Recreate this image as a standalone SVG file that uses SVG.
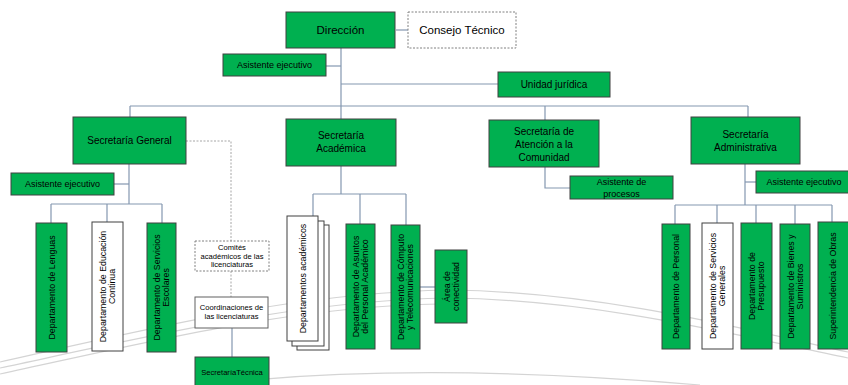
<svg xmlns="http://www.w3.org/2000/svg" width="848" height="385" viewBox="0 0 848 385">
<style>
.g{fill:#00b050;stroke:#404040;stroke-width:1}
.w{fill:#fff;stroke:#404040;stroke-width:1}
.d{fill:#fff;stroke:#808080;stroke-width:1;stroke-dasharray:2,1.5}
.c{stroke:#8497b0;fill:none;stroke-width:1.2}
.cd{stroke:#a6a6a6;fill:none;stroke-width:1;stroke-dasharray:2,1.5}
.bg{stroke:#d4d4d4;fill:none;stroke-width:1.2}
text{font-family:"Liberation Sans",Arial,sans-serif;fill:#000;text-anchor:middle}
.t12{font-size:11.5px}
.t10{font-size:10px}
.t9{font-size:9px}
.v{font-size:8.8px}
.s{font-size:7.6px}
</style>
<rect width="848" height="385" fill="#fff"/>
<g id="background">
<path class="bg" d="M0,362 C150,328 300,292 450,290 C600,292 740,328 848,352"/>
<path class="bg" d="M0,368 C150,336 300,300 450,298 C600,300 740,336 848,358"/>
<path class="bg" d="M0,374 C140,344 290,306 440,304"/>
<path class="bg" d="M230,382 C350,370 500,368 700,385"/>
</g>
<g id="connectors">
<line class="c" x1="341" y1="48" x2="341" y2="106"/>
<line class="c" x1="396" y1="30" x2="408" y2="30"/>
<line class="c" x1="326" y1="66" x2="341" y2="66"/>
<line class="c" x1="341" y1="84" x2="498" y2="84"/>
<line class="c" x1="130" y1="106" x2="748" y2="106"/>
<line class="c" x1="130" y1="106" x2="130" y2="117"/>
<line class="c" x1="341" y1="106" x2="341" y2="119"/>
<line class="c" x1="545" y1="106" x2="545" y2="120"/>
<line class="c" x1="748" y1="106" x2="748" y2="117"/>
<line class="c" x1="129" y1="164" x2="129" y2="204"/>
<line class="c" x1="114" y1="184" x2="129" y2="184"/>
<line class="c" x1="51" y1="204" x2="162" y2="204"/>
<line class="c" x1="51" y1="204" x2="51" y2="223"/>
<line class="c" x1="107" y1="204" x2="107" y2="222"/>
<line class="c" x1="162" y1="204" x2="162" y2="223"/>
<path class="cd" d="M186,141 H231 V241"/>
<line class="cd" x1="231" y1="271" x2="231" y2="297"/>
<line class="c" x1="232" y1="328" x2="232" y2="357"/>
<line class="c" x1="341" y1="166" x2="341" y2="194"/>
<line class="c" x1="313" y1="194" x2="406" y2="194"/>
<line class="c" x1="313" y1="194" x2="313" y2="216"/>
<line class="c" x1="360" y1="194" x2="360" y2="224"/>
<line class="c" x1="406" y1="194" x2="406" y2="225"/>
<line class="c" x1="420" y1="287" x2="435" y2="287"/>
<path class="c" d="M545,167 V188 H570"/>
<line class="c" x1="745" y1="164" x2="745" y2="205"/>
<line class="c" x1="745" y1="182" x2="756" y2="182"/>
<line class="c" x1="675" y1="205" x2="832" y2="205"/>
<line class="c" x1="675" y1="205" x2="675" y2="224"/>
<line class="c" x1="717" y1="205" x2="717" y2="223"/>
<line class="c" x1="756" y1="205" x2="756" y2="223"/>
<line class="c" x1="795" y1="205" x2="795" y2="224"/>
<line class="c" x1="832" y1="205" x2="832" y2="222"/>
</g>
<g id="direccion"><rect class="g" x="286" y="12" width="109" height="36"/><text class="t12" x="340.5" y="34">Dirección</text></g>
<g id="consejo"><rect class="d" x="408" y="12" width="108" height="36"/><text class="t12" x="462" y="34">Consejo Técnico</text></g>
<g id="asistente-direccion"><rect class="g" x="223" y="54" width="103" height="22"/><text class="t9" x="274.5" y="68">Asistente ejecutivo</text></g>
<g id="unidad-juridica"><rect class="g" x="498" y="72" width="112" height="25"/><text class="t10" x="554" y="88">Unidad jurídica</text></g>
<g id="sec-general"><rect class="g" x="73" y="117" width="113" height="47"/><text class="t10" x="129.5" y="144">Secretaría General</text></g>
<g id="sec-academica"><rect class="g" x="286" y="119" width="110" height="47"/><text class="t10" x="341" y="139">Secretaría</text><text class="t10" x="341" y="152">Académica</text></g>
<g id="sec-atencion"><rect class="g" x="489" y="120" width="110" height="47"/><text class="t10" x="544" y="135">Secretaría de</text><text class="t10" x="544" y="148">Atención a la</text><text class="t10" x="544" y="161">Comunidad</text></g>
<g id="sec-administrativa"><rect class="g" x="691" y="117" width="109" height="47"/><text class="t10" x="745.5" y="138">Secretaría</text><text class="t10" x="745.5" y="151">Administrativa</text></g>
<g id="asistente-general"><rect class="g" x="11" y="173" width="103" height="22"/><text class="t9" x="62.5" y="187">Asistente ejecutivo</text></g>
<g id="asistente-procesos"><rect class="g" x="570" y="176" width="103" height="23"/><text class="t9" x="621.5" y="185">Asistente de</text><text class="t9" x="621.5" y="197">procesos</text></g>
<g id="asistente-administrativa"><rect class="g" x="756" y="171" width="96" height="22"/><text class="t9" x="804" y="185">Asistente ejecutivo</text></g>
<g id="dep-lenguas"><rect class="g" x="36" y="223" width="31" height="129"/><text class="v" transform="translate(51.5,287.5) rotate(-90)" y="3">Departamento de Lenguas</text></g>
<g id="dep-educacion"><rect class="w" x="92" y="222" width="31" height="129"/><text class="v" transform="translate(107.5,286.5) rotate(-90)"><tspan x="0" y="-1.5">Departamento de Educación</tspan><tspan x="0" y="7.5">Continua</tspan></text></g>
<g id="dep-escolares"><rect class="g" x="147" y="223" width="29" height="129"/><text class="v" transform="translate(161.5,287.5) rotate(-90)"><tspan x="0" y="-1.5">Departamento de Servicios</tspan><tspan x="0" y="7.5">Escolares</tspan></text></g>
<g id="comites"><rect class="d" x="195" y="241" width="74" height="30"/><text class="s" x="232" y="250">Comités</text><text class="s" x="232" y="258.5">académicos de las</text><text class="s" x="232" y="267">licenciaturas</text></g>
<g id="coordinaciones"><rect class="w" x="195" y="297" width="73" height="31" style="stroke:#606060"/><text class="s" x="231.5" y="310">Coordinaciones de</text><text class="s" x="231.5" y="319">las licenciaturas</text></g>
<g id="sec-tecnica"><rect class="g" x="195" y="357" width="74" height="35"/><text class="s" x="232" y="375">SecretaríaTécnica</text></g>
<g id="dep-academicos">
<rect class="w" x="297" y="225" width="32" height="125"/>
<rect class="w" x="292" y="221" width="32" height="125"/>
<rect class="w" x="287" y="216" width="31" height="125"/>
<text class="v" transform="translate(302.5,278.5) rotate(-90)" y="3">Departamentos académicos</text></g>
<g id="dep-asuntos"><rect class="g" x="346" y="224" width="29" height="125"/><text class="v" transform="translate(360.5,286.5) rotate(-90)"><tspan x="0" y="-1.5">Departamento de Asuntos</tspan><tspan x="0" y="7.5">del Personal Académico</tspan></text></g>
<g id="dep-computo"><rect class="g" x="391" y="225" width="29" height="124"/><text class="v" transform="translate(405.5,287) rotate(-90)"><tspan x="0" y="-1.5">Departamento de Cómputo</tspan><tspan x="0" y="7.5">y Telecomunicaciones</tspan></text></g>
<g id="area-conectividad"><rect class="g" x="435" y="250" width="32" height="73"/><text class="v" transform="translate(451,286.5) rotate(-90)"><tspan x="0" y="-1.5">Área de</tspan><tspan x="0" y="7.5">conectividad</tspan></text></g>
<g id="dep-personal"><rect class="g" x="662" y="224" width="28" height="125"/><text class="v" transform="translate(676,286.5) rotate(-90)" y="3">Departamento de Personal</text></g>
<g id="dep-servicios-generales"><rect class="w" x="702" y="223" width="31" height="126"/><text class="v" transform="translate(717.5,286) rotate(-90)"><tspan x="0" y="-1.5">Departamento de Servicios</tspan><tspan x="0" y="7.5">Generales</tspan></text></g>
<g id="dep-presupuesto"><rect class="g" x="741" y="223" width="31" height="126"/><text class="v" transform="translate(756.5,286) rotate(-90)"><tspan x="0" y="-1.5">Departamento de</tspan><tspan x="0" y="7.5">Presupuesto</tspan></text></g>
<g id="dep-bienes"><rect class="g" x="780" y="224" width="30" height="125"/><text class="v" transform="translate(795,286.5) rotate(-90)"><tspan x="0" y="-1.5">Departamento de Bienes y</tspan><tspan x="0" y="7.5">Suministros</tspan></text></g>
<g id="superintendencia"><rect class="g" x="818" y="222" width="32" height="127"/><text class="v" transform="translate(833,286) rotate(-90)" y="3">Superintendencia de Obras</text></g>
</svg>
